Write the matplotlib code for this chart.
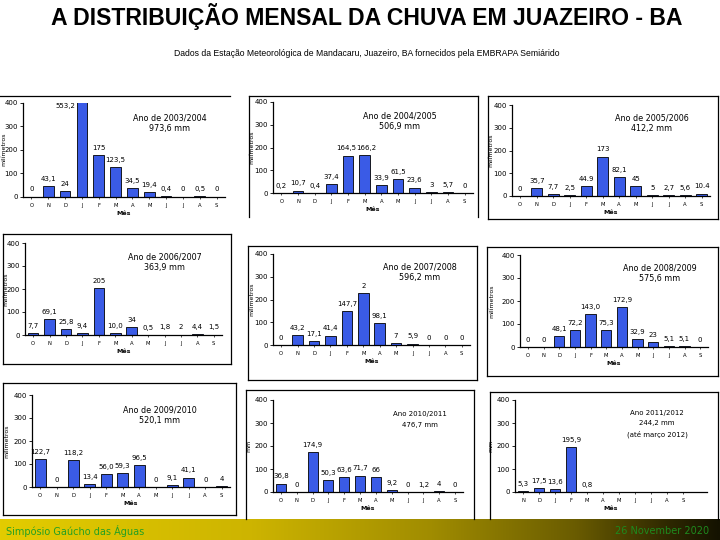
import numpy as np
import matplotlib
matplotlib.use("Agg")
import matplotlib.pyplot as plt
from matplotlib.lines import Line2D
from matplotlib.colors import LinearSegmentedColormap

# monthly rainfall (mm), hydrological year Oct -> Sep
months = ["O", "N", "D", "J", "F", "M", "A", "M", "J", "J", "A", "S"]
months_2012 = ["N", "D", "J", "F", "M", "A", "M", "J", "J", "A", "S"]

rain_0304 = [0, 43.1, 24, 553.2, 175, 123.5, 34.5, 19.4, 0.4, 0, 0.5, 0]
lbl_0304 = ["0", "43,1", "24", "", "175", "123,5", "34,5", "19,4", "0,4", "0", "0,5", "0"]
rain_0405 = [0.2, 10.7, 0.4, 37.4, 164.5, 166.2, 33.9, 61.5, 23.6, 3, 5.7, 0]
lbl_0405 = ["0,2", "10,7", "0,4", "37,4", "164,5", "166,2", "33,9", "61,5", "23,6", "3", "5,7", "0"]
rain_0506 = [0, 35.7, 7.7, 2.5, 44.9, 173, 82.1, 45, 5, 2.7, 5.6, 10.4]
lbl_0506 = ["0", "35,7", "7,7", "2,5", "44.9", "173", "82,1", "45", "5", "2,7", "5,6", "10.4"]
rain_0607 = [7.7, 69.1, 25.8, 9.4, 205, 10.0, 34, 0.5, 1.8, 2, 4.4, 1.5]
lbl_0607 = ["7,7", "69,1", "25,8", "9,4", "205", "10,0", "34", "0,5", "1,8", "2", "4,4", "1,5"]
rain_0708 = [0, 43.2, 17.1, 41.4, 147.7, 230, 98.1, 7, 5.9, 0, 0, 0]
lbl_0708 = ["0", "43,2", "17,1", "41,4", "147,7", "2", "98,1", "7", "5,9", "0", "0", "0"]
rain_0809 = [0, 0, 48.1, 72.2, 143.0, 75.3, 172.9, 32.9, 23, 5.1, 5.1, 0]
lbl_0809 = ["0", "0", "48,1", "72,2", "143,0", "75,3", "172,9", "32,9", "23", "5,1", "5,1", "0"]
rain_0910 = [122.7, 0, 118.2, 13.4, 56.0, 59.3, 96.5, 0, 9.1, 41.1, 0, 4]
lbl_0910 = ["122,7", "0", "118,2", "13,4", "56,0", "59,3", "96,5", "0", "9,1", "41,1", "0", "4"]
rain_1011 = [36.8, 0, 174.9, 50.3, 63.6, 71.7, 66, 9.2, 0, 1.2, 4, 0]
lbl_1011 = ["36,8", "0", "174,9", "50,3", "63,6", "71,7", "66", "9,2", "0", "1,2", "4", "0"]
rain_1112 = [5.3, 17.5, 13.6, 195.9, 0.8]
lbl_1112 = ["5,3", "17,5", "13,6", "195,9", "0,8"]

notes = [
    ["Ano de 2003/2004", "973,6 mm"],
    ["Ano de 2004/2005", "506,9 mm"],
    ["Ano de 2005/2006", "412,2 mm"],
    ["Ano de 2006/2007", "363,9 mm"],
    ["Ano de 2007/2008", "596,2 mm"],
    ["Ano de 2008/2009", "575,6 mm"],
    ["Ano de 2009/2010", "520,1 mm"],
    ["Ano 2010/2011", "476,7 mm"],
    ["Ano 2011/2012", "244,2 mm", "(até março 2012)"],
]

W, H = 720, 540
fig = plt.figure(figsize=(7.2, 5.4), dpi=100)
fig.patch.set_facecolor("white")

BLUE = "#3A5BE6"


def fx(x):
    return x / W


def fy(y):
    return 1 - y / H


def panel(l, r, y0, y400, cats, vals, labels, note, note_xy, ylab_x,
          ylab="milímetros", note_fs=5.8, nudge=None):
    nudge = nudge or {}
    ax = fig.add_axes([fx(l), fy(y0), (r - l) / W, (y0 - y400) / H])
    x = np.arange(len(vals))
    ax.bar(x, vals, width=0.64, color=BLUE, edgecolor="black", linewidth=0.6, clip_on=True)
    for xi, v, s in zip(x, vals, labels):
        if s:
            ax.annotate(s, (xi, min(v, 400)), xytext=(nudge.get(xi, 0), 3), textcoords="offset points",
                        ha="center", va="bottom", fontsize=5.0)
    ax.set_xlim(-0.5, 11.5)
    ax.set_ylim(0, 400)
    ax.set_xticks(np.arange(len(cats)))
    ax.set_xticklabels(cats, fontsize=3.8)
    ax.set_yticks([0, 100, 200, 300, 400])
    ax.tick_params(axis="y", labelsize=5, length=2, width=0.6, pad=1.5)
    ax.tick_params(axis="x", length=1.5, width=0.5, pad=3)
    for s in ["top", "right"]:
        ax.spines[s].set_visible(False)
    for s in ["left", "bottom"]:
        ax.spines[s].set_linewidth(0.9)
    ax.set_xlabel("Mês", fontsize=4.5, fontweight="bold", labelpad=2)
    ax.set_ylabel(ylab, fontsize=4.5)
    ax.yaxis.set_label_coords((ylab_x - l) / (r - l), 0.5)
    for i, line in enumerate(note):
        fig.text(fx(note_xy[0]), fy(note_xy[1] + i * 10.5), line, ha="center", va="center",
                 fontsize=note_fs)
    ax.patch.set_alpha(0)
    return ax


def frame(l, t, r, b, sides="ltrb"):
    segs = {"l": ([l, l], [t, b]), "r": ([r, r], [t, b]),
            "t": ([l, r], [t, t]), "b": ([l, r], [b, b])}
    for s in sides:
        xs, ys = segs[s]
        fig.add_artist(Line2D([fx(v) for v in xs], [fy(v) for v in ys], color="black", lw=0.9))


# frames round the nine charts
fig.add_artist(Line2D([0, fx(230)], [fy(96), fy(96)], color="black", lw=0.9))
frame(249, 96, 478, 217, "ltr")
frame(488, 96, 718, 219)
frame(3, 234, 231, 364)
frame(248, 246, 477, 380)
frame(487, 247, 718, 376)
frame(3, 383, 236, 515)
frame(246, 390, 474, 519, "ltr")
frame(490, 392, 718, 519, "ltr")

ax1 = panel(23, 225, 196.5, 102.5, months, rain_0304, lbl_0304, notes[0], (170, 118), 6)
ax1.text(2.0, 385, "553,2", ha="center", va="center", fontsize=5.0,
         bbox=dict(facecolor="white", edgecolor="none", pad=1.5), clip_on=False)
panel(273, 473, 193, 102, months, rain_0405, lbl_0405, notes[1], (400, 116), 254,
      nudge={4: -1.5, 5: 1.5})
panel(512, 710, 196, 105, months, rain_0506, lbl_0506, notes[2], (652, 118), 493)
panel(25, 222, 335, 243, months, rain_0607, lbl_0607, notes[3], (165, 257), 8)
panel(273, 470, 345, 254, months, rain_0708, lbl_0708, notes[4], (420, 267), 254)
panel(520, 708, 347, 255, months, rain_0809, lbl_0809, notes[5], (660, 268), 494)
panel(32, 230, 487, 395, months, rain_0910, lbl_0910, notes[6], (160, 410), 9)
panel(273, 463, 492, 400, months, rain_1011, lbl_1011, notes[7], (420, 414), 251,
      ylab="mm", note_fs=5)
panel(515, 707, 492, 400, months_2012, rain_1112, lbl_1112, notes[8], (657, 413), 493,
      ylab="mm", note_fs=5)

fig.text(0.51, fy(17), "A DISTRIBUIÇÃO MENSAL DA CHUVA EM JUAZEIRO - BA", ha="center", va="center",
         fontsize=16.6, fontweight="bold", family=["Liberation Sans", "DejaVu Sans"])
fig.text(fx(367), fy(53), "Dados da Estação Meteorológica de Mandacaru, Juazeiro, BA fornecidos pela EMBRAPA Semiárido",
         ha="center", va="center", fontsize=6.2, family=["Liberation Sans", "DejaVu Sans"])

# footer band
fax = fig.add_axes([0, 0, 1, 21 / H])
cmap = LinearSegmentedColormap.from_list("foot", [(0, "#E3CC00"), (0.35, "#CDB400"), (0.6, "#A08C00"),
                                                  (0.8, "#6A5C00"), (0.93, "#2E2800"), (1, "#141200")])
fax.imshow(np.linspace(0, 1, 256)[None, :], aspect="auto", cmap=cmap, extent=[0, 1, 0, 1])
fax.set_axis_off()
fax.text(0.008, 0.45, "Simpósio Gaúcho das Águas", color="#23A023", fontsize=7, va="center", ha="left",
         family=["DejaVu Sans"])
fax.text(0.985, 0.45, "26 November 2020", color="#1E8A1E", fontsize=7, va="center", ha="right",
         family=["DejaVu Sans"])

fig.savefig("out.png", dpi=100)
